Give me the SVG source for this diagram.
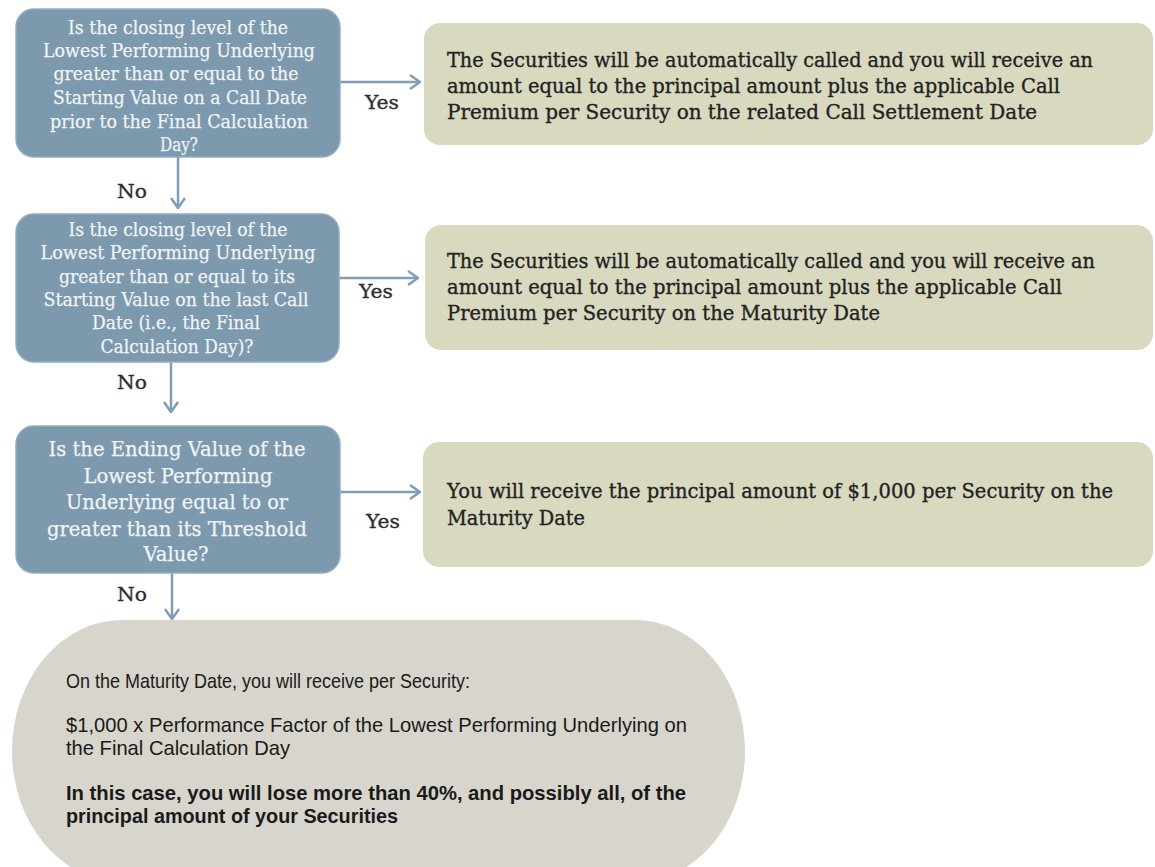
<svg xmlns="http://www.w3.org/2000/svg" width="1155" height="867" viewBox="0 0 1155 867">
<style>
.q{fill:#7d99ae;stroke:#93adc0;stroke-width:1.5}
.r{fill:#d9d9c0}
.g{fill:#d8d5cc}
.qt{font-family:"DejaVu Serif","Liberation Serif",serif;fill:#f1f4f6;stroke:#f1f4f6;stroke-width:0.25;text-anchor:middle}
.rt{font-family:"DejaVu Serif","Liberation Serif",serif;font-size:21px;fill:#222;stroke:#222;stroke-width:0.35}
.lb{font-family:"DejaVu Serif","Liberation Serif",serif;font-size:19px;fill:#2e2e2e;stroke:#2e2e2e;stroke-width:0.35;text-anchor:middle}
.gt{font-family:"Liberation Sans",Arial,sans-serif;font-size:21px;fill:#1a1a1a}
.c{stroke:#7f9db3;stroke-width:2.5;fill:none}
</style>
<defs>
<marker id="ah" viewBox="0 0 12 16" refX="11" refY="8" markerWidth="12" markerHeight="16" markerUnits="userSpaceOnUse" orient="auto">
<path d="M1,1 L11,8 L1,15" fill="none" stroke="#7f9db3" stroke-width="2.5"/>
</marker>
</defs>
<rect width="1155" height="867" fill="#ffffff"/>
<g id="connectors">
<line class="c" x1="340" y1="82" x2="420" y2="82" marker-end="url(#ah)"/>
<line class="c" x1="339" y1="278" x2="418" y2="278" marker-end="url(#ah)"/>
<line class="c" x1="340" y1="492" x2="420" y2="492" marker-end="url(#ah)"/>
<line class="c" x1="178" y1="157" x2="178" y2="208" marker-end="url(#ah)"/>
<line class="c" x1="171" y1="362" x2="171" y2="412" marker-end="url(#ah)"/>
<line class="c" x1="172" y1="573" x2="172" y2="619" marker-end="url(#ah)"/>
<text class="lb" x="382" y="109" textLength="34" lengthAdjust="spacingAndGlyphs">Yes</text>
<text class="lb" x="376" y="298" textLength="34" lengthAdjust="spacingAndGlyphs">Yes</text>
<text class="lb" x="383" y="528" textLength="34" lengthAdjust="spacingAndGlyphs">Yes</text>
<text class="lb" x="132" y="198" textLength="30" lengthAdjust="spacingAndGlyphs">No</text>
<text class="lb" x="132" y="389" textLength="30" lengthAdjust="spacingAndGlyphs">No</text>
<text class="lb" x="132" y="601" textLength="30" lengthAdjust="spacingAndGlyphs">No</text>
</g>
<g id="q1">
<rect class="q" x="16" y="9" width="324" height="148" rx="18"/>
<text class="qt" font-size="18.5"><tspan x="178" y="34" textLength="220" lengthAdjust="spacingAndGlyphs">Is the closing level of the</tspan><tspan x="179" y="57" textLength="272" lengthAdjust="spacingAndGlyphs">Lowest Performing Underlying</tspan><tspan x="176" y="80" textLength="245" lengthAdjust="spacingAndGlyphs">greater than or equal to the</tspan><tspan x="180" y="104" textLength="254" lengthAdjust="spacingAndGlyphs">Starting Value on a Call Date</tspan><tspan x="179" y="128" textLength="258" lengthAdjust="spacingAndGlyphs">prior to the Final Calculation</tspan><tspan x="179" y="151" textLength="38" lengthAdjust="spacingAndGlyphs">Day?</tspan></text>
</g>
<g id="q2">
<rect class="q" x="16" y="214" width="323" height="148" rx="18"/>
<text class="qt" font-size="18.5"><tspan x="178" y="236" textLength="219" lengthAdjust="spacingAndGlyphs">Is the closing level of the</tspan><tspan x="178" y="259" textLength="275" lengthAdjust="spacingAndGlyphs">Lowest Performing Underlying</tspan><tspan x="177" y="283" textLength="236" lengthAdjust="spacingAndGlyphs">greater than or equal to its</tspan><tspan x="176" y="306" textLength="265" lengthAdjust="spacingAndGlyphs">Starting Value on the last Call</tspan><tspan x="176" y="329" textLength="168" lengthAdjust="spacingAndGlyphs">Date (i.e., the Final</tspan><tspan x="177" y="353" textLength="153" lengthAdjust="spacingAndGlyphs">Calculation Day)?</tspan></text>
</g>
<g id="q3">
<rect class="q" x="16" y="426" width="324" height="147" rx="18"/>
<text class="qt" font-size="21"><tspan x="177" y="456" textLength="257" lengthAdjust="spacingAndGlyphs">Is the Ending Value of the</tspan><tspan x="178" y="483" textLength="189" lengthAdjust="spacingAndGlyphs">Lowest Performing</tspan><tspan x="177" y="509" textLength="222" lengthAdjust="spacingAndGlyphs">Underlying equal to or</tspan><tspan x="177" y="536" textLength="260" lengthAdjust="spacingAndGlyphs">greater than its Threshold</tspan><tspan x="176" y="561" textLength="65" lengthAdjust="spacingAndGlyphs">Value?</tspan></text>
</g>
<g id="r1">
<rect class="r" x="424" y="23" width="729" height="122" rx="16"/>
<text class="rt"><tspan x="447" y="67" textLength="646" lengthAdjust="spacingAndGlyphs">The Securities will be automatically called and you will receive an</tspan><tspan x="447" y="93" textLength="613" lengthAdjust="spacingAndGlyphs">amount equal to the principal amount plus the applicable Call</tspan><tspan x="447" y="119" textLength="590" lengthAdjust="spacingAndGlyphs">Premium per Security on the related Call Settlement Date</tspan></text>
</g>
<g id="r2">
<rect class="r" x="425" y="225" width="728" height="125" rx="16"/>
<text class="rt"><tspan x="447" y="268" textLength="648" lengthAdjust="spacingAndGlyphs">The Securities will be automatically called and you will receive an</tspan><tspan x="447" y="294" textLength="615" lengthAdjust="spacingAndGlyphs">amount equal to the principal amount plus the applicable Call</tspan><tspan x="447" y="320" textLength="433" lengthAdjust="spacingAndGlyphs">Premium per Security on the Maturity Date</tspan></text>
</g>
<g id="r3">
<rect class="r" x="423" y="442" width="730" height="125" rx="16"/>
<text class="rt"><tspan x="447" y="498" textLength="666" lengthAdjust="spacingAndGlyphs">You will receive the principal amount of $1,000 per Security on the</tspan><tspan x="447" y="525" textLength="138" lengthAdjust="spacingAndGlyphs">Maturity Date</tspan></text>
</g>
<g id="outcome">
<rect class="g" x="12" y="620" width="733" height="262" rx="110" ry="131"/>
<text class="gt"><tspan x="66" y="688" textLength="404" lengthAdjust="spacingAndGlyphs">On the Maturity Date, you will receive per Security:</tspan><tspan x="66" y="732" textLength="621" lengthAdjust="spacingAndGlyphs">$1,000 x Performance Factor of the Lowest Performing Underlying on</tspan><tspan x="66" y="755" textLength="224" lengthAdjust="spacingAndGlyphs">the Final Calculation Day</tspan><tspan x="66" y="800" font-weight="bold" textLength="620" lengthAdjust="spacingAndGlyphs">In this case, you will lose more than 40%, and possibly all, of the</tspan><tspan x="66" y="823" font-weight="bold" textLength="332" lengthAdjust="spacingAndGlyphs">principal amount of your Securities</tspan></text>
</g>
</svg>
